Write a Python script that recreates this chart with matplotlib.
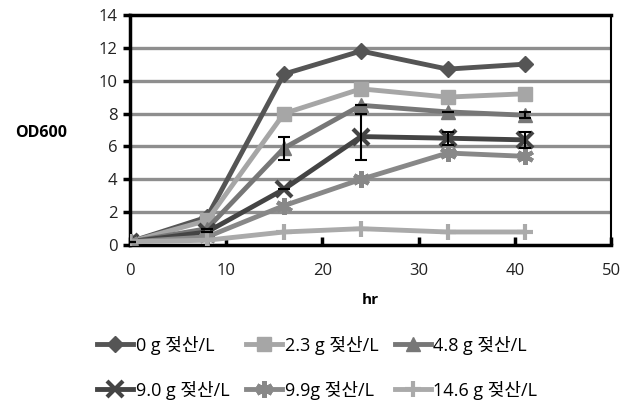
import matplotlib
matplotlib.use("Agg")
import matplotlib.pyplot as plt
from matplotlib.lines import Line2D

plt.rcParams['font.family'] = ['Open Sans', 'Noto Sans CJK KR', 'DejaVu Sans']

hours = [0, 8, 16, 24, 33, 41]
labels = ['0 g 젖산/L', '2.3 g 젖산/L', '4.8 g 젖산/L', '9.0 g 젖산/L', '9.9g 젖산/L', '14.6 g 젖산/L']
od_0 = [0.2, 1.7, 10.4, 11.8, 10.7, 11.0]
od_23 = [0.2, 1.5, 8.0, 9.5, 9.0, 9.2]
od_48 = [0.2, 1.0, 5.9, 8.5, 8.1, 7.9]
od_90 = [0.2, 0.8, 3.4, 6.6, 6.5, 6.4]
od_99 = [0.2, 0.5, 2.4, 4.0, 5.6, 5.4]
od_146 = [0.2, 0.3, 0.8, 1.0, 0.8, 0.8]
err_48 = [0, 0, 0.7, 0, 0, 0.2]
err_90 = [0, 0, 0, 1.4, 0.4, 0.5]

series = [od_0, od_23, od_48, od_90, od_99, od_146]
colors = ['#555555', '#a6a6a6', '#777777', '#444444', '#888888', '#aaaaaa']
markers = ['D', 's', '^', 'x', (6, 2, 0), '+']
msizes = [8, 10, 10, 12, 12, 12]
errs = [None, None, err_48, err_90, None, None]

fig = plt.figure(figsize=(6.23, 4.12), dpi=100)
ax = fig.add_axes([0.2087, 0.405, 0.7723, 0.559])

for y in range(2, 14, 2):
    ax.axhline(y, color='#8e8e8e', lw=2.4, zorder=0)

handles = []
for vals, c, m, ms, lab, e in zip(series, colors, markers, msizes, labels, errs):
    if e is not None:
        ax.errorbar(hours, vals, yerr=e, fmt='none', ecolor='black', elinewidth=1.5,
                    capsize=4, capthick=1.5, zorder=5)
    mew = 3 if m in ('x', '+') or isinstance(m, tuple) else 1
    ax.plot(hours, vals, color=c, lw=3.5, marker=m, ms=ms, mew=mew, mec=c, mfc=c, zorder=3)
    handles.append(Line2D([], [], color=c, lw=3.5, marker=m, ms=ms, mew=mew, mec=c, mfc=c))

ax.set_xlim(0, 50)
ax.set_ylim(0, 14)
ax.set_xticks([0, 10, 20, 30, 40, 50])
ax.set_yticks(range(0, 15, 2))
ax.tick_params(axis='x', direction='in', length=6, width=2.5, pad=13, labelsize=12, colors='black', labelcolor='#222222')
ax.tick_params(axis='y', direction='out', length=5, width=2.5, pad=4, labelsize=12, labelcolor='#222222')
for name, s in ax.spines.items():
    s.set_linewidth(2.5)
    s.set_color('black')
ax.spines['right'].set_linewidth(1.5)

ax.set_xlabel('hr', fontsize=11, fontweight='bold', labelpad=10)
fig.text(0.066, 0.677, 'OD600', fontsize=11.5, fontweight='bold', ha='center', va='center')

order = [0, 3, 1, 4, 2, 5]
fig.legend(handles=[handles[i] for i in order], labels=[labels[i] for i in order],
           loc='upper left', bbox_to_anchor=(0.13, 0.225),
           ncol=3, frameon=False, handlelength=2.0, handletextpad=0.15,
           columnspacing=0.9, labelspacing=1.45,
           prop={'family': ['Open Sans', 'Noto Sans CJK KR'], 'size': 13})

fig.savefig('out.png', dpi=100)
